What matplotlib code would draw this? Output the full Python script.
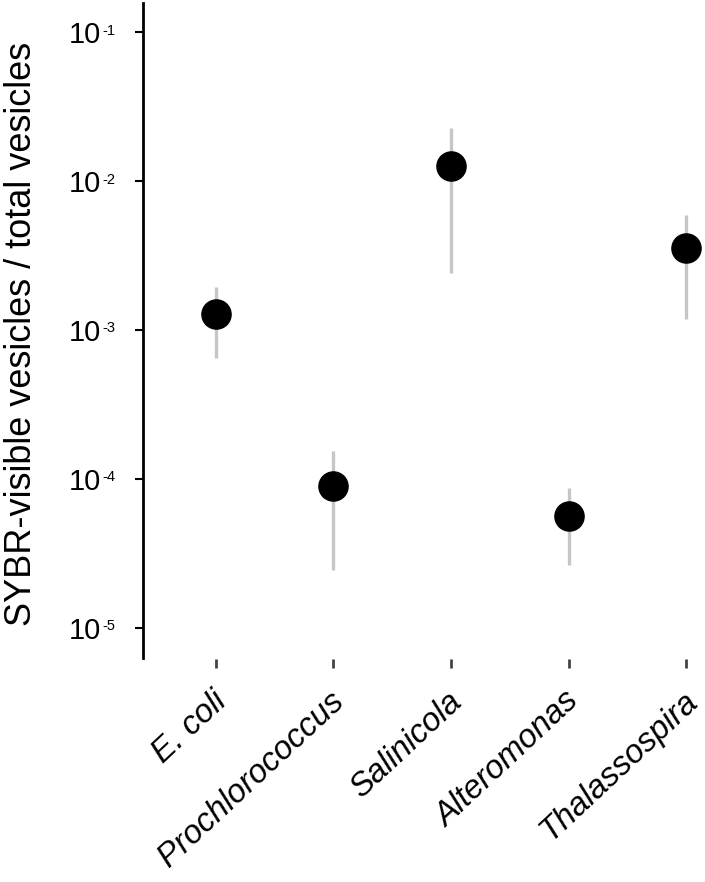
import matplotlib
matplotlib.use("Agg")
import matplotlib.pyplot as plt
import matplotlib.transforms as mtransforms
import numpy as np

plt.rcParams['font.family'] = ['Liberation Sans', 'DejaVu Sans']

# ---- data ----
categories = ["E. coli", "Prochlorococcus", "Salinicola", "Alteromonas", "Thalassospira"]
values = [1.29e-3, 8.97e-5, 1.26e-2, 5.64e-5, 3.57e-3]
upper = [1.95e-3, 1.54e-4, 2.26e-2, 8.7e-5, 5.87e-3]
lower = [6.5e-4, 2.44e-5, 2.43e-3, 2.64e-5, 1.19e-3]
ytick_vals = [1e-5, 1e-4, 1e-3, 1e-2, 1e-1]
ytick_exps = ["-5", "-4", "-3", "-2", "-1"]
ylabel = "SYBR-visible vesicles / total vesicles"

fig = plt.figure(figsize=(7.05, 8.82), dpi=100)
ax = fig.add_axes([143/705, 1-658/882, 1-143/705, (658-3)/882])

for s in ["top", "right", "bottom"]:
    ax.spines[s].set_visible(False)
ax.spines["left"].set_linewidth(2)
ax.spines["bottom"].set_position(("outward", 1))

x = np.arange(len(categories))
ax.vlines(x, lower, upper, color="#c6c6c6", linewidth=2.4, zorder=1)
ax.plot(x, values, linestyle="none", marker="o", markersize=21,
        color="black", zorder=2)

ax.set_yscale("log")
ax.set_ylim(10**-5.202, 10**-0.805)
ax.set_xlim(-0.62, 4.16)

ax.set_yticks(ytick_vals)
ax.set_yticklabels(["10"] * len(ytick_vals))
ax.yaxis.set_minor_locator(matplotlib.ticker.NullLocator())
ax.tick_params(axis="y", which="major", length=6, width=1.5, pad=24,
               labelsize=21, direction="out")

# superscripts for tick labels
trans = mtransforms.blended_transform_factory(ax.transAxes, ax.transData)
off = mtransforms.ScaledTranslation(-41/100, 8.5/100, fig.dpi_scale_trans)
for v, e in zip(ytick_vals, ytick_exps):
    ax.text(0, v, e, transform=trans + off, ha="left", va="top", fontsize=10.5)

ax.set_xticks(x)
ax.tick_params(axis="x", length=6.5, width=2, color="#444444", pad=12.5)
ax.set_xticklabels(categories, rotation=43, ha="right",
                   rotation_mode="anchor", fontsize=23.5, style="italic")
shift = mtransforms.ScaledTranslation(-4/100, 0, fig.dpi_scale_trans)
for lbl in ax.get_xticklabels():
    lbl.set_transform(lbl.get_transform() + shift)

ax.set_ylabel(ylabel, fontsize=26)
ax.yaxis.set_label_coords((39 - 143) / 562, 0.494)

fig.savefig("out.png", dpi=100)
